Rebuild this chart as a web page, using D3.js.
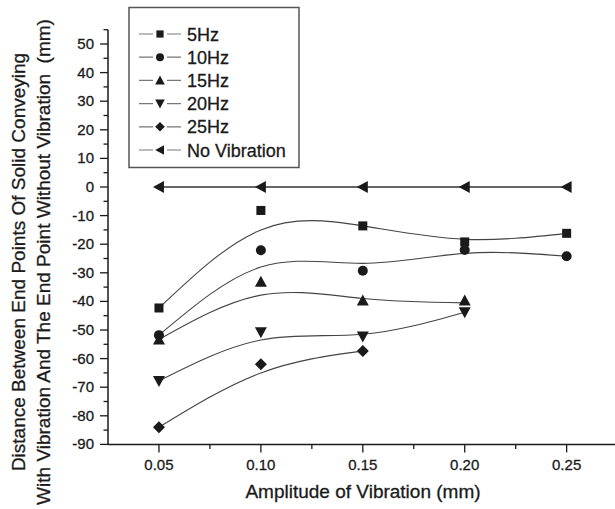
<!DOCTYPE html>
<html>
<head>
<meta charset="utf-8">
<script src="https://cdn.jsdelivr.net/npm/d3@7"></script>
<style>
  body { margin: 0; background: #fff; }
  svg { display: block; font-family: "Liberation Sans", Arial, sans-serif; }
  svg text { stroke: #1a1a1a; stroke-width: 0.3px; }
</style>
</head>
<body>
<div id="chart"></div>
<script>
// amplitude values (mm)
const amplitudes = [0.05, 0.10, 0.15, 0.20, 0.25];

// measured points per frequency
const hz5 = [-42.3, -8.2, -13.6, -19.2, -16.2];
const hz10 = [-51.8, -22.1, -29.3, -22.0, -24.2];
const hz15 = [-53.3, -33.1, -39.7, -39.7];
const hz20 = [-67.8, -50.8, -52.3, -43.8];
const hz25 = [-84.0, -62.0, -57.3];
const noVib = [0, 0, 0, 0, 0];

// smoothed fit curves
const fit5 = [-42.3, -15.0, -13.6, -18.3, -16.2];
const fit10 = [-51.8, -28.0, -26.7, -23.2, -24.2];
const fit15 = [-53.3, -37.8, -39.0, -40.5];
const fit20 = [-67.8, -53.5, -51.5, -43.8];
const fit25 = [-84.0, -65.0, -57.3];

const seriesNames = ["5Hz", "10Hz", "15Hz", "20Hz", "25Hz", "No Vibration"];
const seriesPoints = [hz5, hz10, hz15, hz20, hz25, noVib];
const seriesFits = [fit5, fit10, fit15, fit20, fit25, noVib];
const seriesSymbols = ["square", "circle", "triUp", "triDown", "diamond", "triLeft"];

const xTicks = [0.05, 0.10, 0.15, 0.20, 0.25];
const yTicks = [50, 40, 30, 20, 10, 0, -10, -20, -30, -40, -50, -60, -70, -80, -90];

const width = 615, height = 509;

const svg = d3.select("#chart").append("svg")
  .attr("width", width)
  .attr("height", height);

const x = d3.scaleLinear().domain([0.025, 0.275]).range([108, 617.6]);
const y = d3.scaleLinear().domain([-90, 55]).range([444.4, 29.7]);

const ink = "#1a1a1a";

// marker shapes
function marker(sel, kind) {
  const s = 5;
  if (kind === "square") {
    sel.append("rect").attr("x", -4.5).attr("y", -4.5).attr("width", 9).attr("height", 9);
  } else if (kind === "circle") {
    sel.append("circle").attr("r", 5);
  } else if (kind === "triUp") {
    sel.append("path").attr("d", `M0,${-s - 1}L${s + 1},${s}L${-s - 1},${s}Z`);
  } else if (kind === "triDown") {
    sel.append("path").attr("d", `M0,${s + 1}L${s + 1},${-s}L${-s - 1},${-s}Z`);
  } else if (kind === "diamond") {
    sel.append("path").attr("d", `M0,-6L6,0L0,6L-6,0Z`);
  } else if (kind === "triLeft") {
    sel.append("path").attr("d", `M${-s - 1},0L${s},${-s - 1}L${s},${s + 1}Z`);
  }
  sel.attr("fill", ink);
}

// axes
const xAxis = svg.append("g").attr("transform", `translate(0,${y(-90)})`);
xAxis.append("line").attr("x1", x(0.025)).attr("x2", 615)
  .attr("stroke", ink).attr("stroke-width", 1.5);
const xMinor = d3.range(0.075, 0.27, 0.05);
xAxis.selectAll(".xminor").data(xMinor).join("line")
  .attr("x1", d => x(d)).attr("x2", d => x(d))
  .attr("y1", 0).attr("y2", 4.5).attr("stroke", ink).attr("stroke-width", 1.3);
xAxis.selectAll(".xmajor").data(xTicks).join("line")
  .attr("x1", d => x(d)).attr("x2", d => x(d))
  .attr("y1", 0).attr("y2", 8).attr("stroke", ink).attr("stroke-width", 1.3);
xAxis.selectAll("text").data(xTicks).join("text")
  .attr("x", d => x(d)).attr("y", 26)
  .attr("text-anchor", "middle")
  .attr("font-size", 15).attr("fill", ink)
  .text(d => d.toFixed(2));

const yAxis = svg.append("g").attr("transform", `translate(${x(0.025)},0)`);
yAxis.append("line").attr("y1", y(55)).attr("y2", y(-90))
  .attr("stroke", ink).attr("stroke-width", 1.5);
const yMinor = d3.range(-85, 56, 10);
yAxis.selectAll(".yminor").data(yMinor).join("line")
  .attr("y1", d => y(d)).attr("y2", d => y(d))
  .attr("x1", 0).attr("x2", -4.5).attr("stroke", ink).attr("stroke-width", 1.3);
yAxis.selectAll(".ymajor").data(yTicks).join("line")
  .attr("y1", d => y(d)).attr("y2", d => y(d))
  .attr("x1", 0).attr("x2", -8).attr("stroke", ink).attr("stroke-width", 1.3);
yAxis.selectAll("text").data(yTicks).join("text")
  .attr("x", -14).attr("y", d => y(d) + 5)
  .attr("text-anchor", "end")
  .attr("font-size", 15).attr("fill", ink)
  .text(d => d);

// axis titles
svg.append("text")
  .attr("x", 363).attr("y", 498)
  .attr("text-anchor", "middle")
  .attr("font-size", 19).attr("fill", ink)
  .text("Amplitude of Vibration (mm)");

const yTitle = ["Distance Between End Points Of Solid Conveying",
  "With Vibration And The End Point Without Vibration  (mm)"];
svg.selectAll(".ytitle").data(yTitle).join("text")
  .attr("transform", (d, i) => `translate(${25 + i * 25},262) rotate(-90)`)
  .attr("text-anchor", "middle")
  .attr("font-size", 19).attr("fill", ink)
  .style("white-space", "pre")
  .text(d => d);

// fit curves
const line = d3.line()
  .x((d, i) => x(amplitudes[i]))
  .y(d => y(d))
  .curve(d3.curveNatural);

seriesFits.forEach((fit, k) => {
  svg.append("path")
    .attr("d", line(fit))
    .attr("fill", "none")
    .attr("stroke", k === 5 ? "#333" : "#444")
    .attr("stroke-width", k === 5 ? 1.6 : 1.1);
});

// markers
seriesPoints.forEach((pts, k) => {
  pts.forEach((v, i) => {
    const g = svg.append("g").attr("transform", `translate(${x(amplitudes[i])},${y(v)})`);
    marker(g, seriesSymbols[k]);
  });
});

// legend
const legend = svg.append("g");
legend.append("rect")
  .attr("x", 129).attr("y", 7.5).attr("width", 170).attr("height", 160)
  .attr("fill", "#fff").attr("stroke", "#555").attr("stroke-width", 1.5);
seriesNames.forEach((name, k) => {
  const ly = 34 + k * 23.2;
  const row = legend.append("g").attr("transform", `translate(0,${ly})`);
  row.append("line").attr("x1", 139).attr("x2", 181)
    .attr("stroke", "#777").attr("stroke-width", 1.2);
  const m = row.append("g").attr("transform", "translate(160,0)");
  m.append("rect").attr("x", -7).attr("y", -7).attr("width", 14).attr("height", 14).attr("fill", "#fff");
  const mm = row.append("g").attr("transform", "translate(160,0) scale(0.8)");
  marker(mm, seriesSymbols[k]);
  row.append("text").attr("x", 187).attr("y", 6.5)
    .attr("font-size", 18).attr("fill", ink)
    .text(name);
});
</script>
</body>
</html>
